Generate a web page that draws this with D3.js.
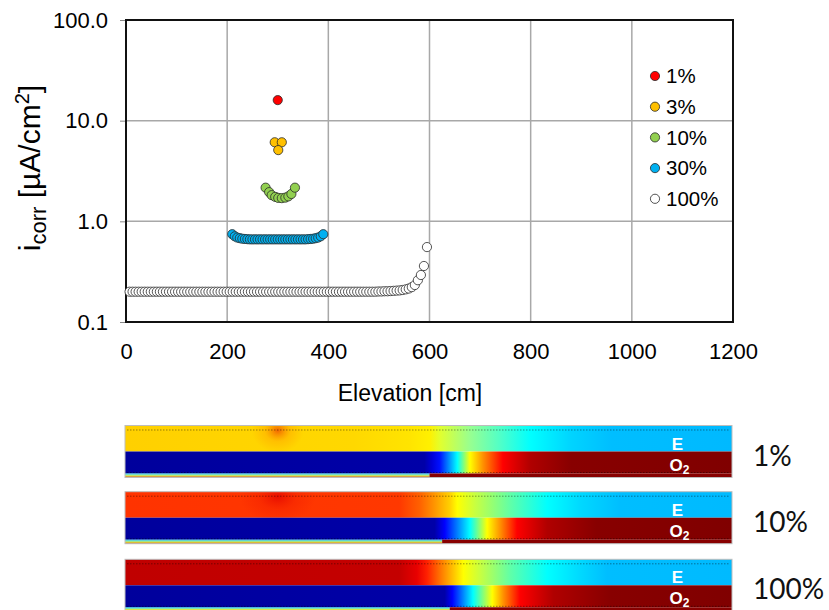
<!DOCTYPE html>
<html><head><meta charset="utf-8">
<script src="https://cdn.jsdelivr.net/npm/d3@7"></script>
<style>body{margin:0;background:#fff}</style>
</head><body><svg id="c" width="829" height="610" xmlns="http://www.w3.org/2000/svg"></svg>
<script>
// ---------- data ----------
const seriesNames = ["1%", "3%", "10%", "30%", "100%"];
const seriesColors = ["#FF0000", "#FFC000", "#92D050", "#00B0F0", "#FFFFFF"];

const x1pct = [300];
const y1pct = [16];

const x3pct = [294, 308, 301];
const y3pct = [6.1, 6.1, 5.1];

const x10pct = [276, 283, 288, 295, 301, 308, 315, 321, 327, 334];
const y10pct = [2.16, 1.95, 1.82, 1.75, 1.71, 1.70, 1.72, 1.77, 1.87, 2.16];

const x30pct = [210, 215, 220, 225, 230, 235, 240, 245, 250, 255, 260, 265, 270, 275, 280, 285, 290, 295, 300,
  305, 310, 315, 320, 325, 330, 335, 340, 345, 350, 355, 360, 365, 370, 375, 380, 385, 390];
const y30pct = [0.745, 0.71, 0.69, 0.68, 0.672, 0.668, 0.665,
  0.662, 0.662, 0.662, 0.662, 0.662, 0.662, 0.662, 0.662, 0.662, 0.662, 0.662, 0.662,
  0.662, 0.662, 0.662, 0.662, 0.662, 0.662, 0.662, 0.662, 0.662, 0.662, 0.662,
  0.665, 0.668, 0.672, 0.68, 0.69, 0.71, 0.745];

const x100pct = [7, 13, 19, 25, 31, 37, 43, 49, 55, 61, 67, 73, 79, 85, 91, 97, 103, 109, 115, 121,
  127, 133, 139, 145, 151, 157, 163, 169, 175, 181, 187, 193, 199, 205, 211, 217, 223, 229, 235, 241,
  247, 253, 259, 265, 271, 277, 283, 289, 295, 301, 307, 313, 319, 325, 331, 337, 343, 349, 355, 361,
  367, 373, 379, 385, 391, 397, 403, 409, 415, 421, 427, 433, 439, 445, 451, 457, 463, 469, 475, 481,
  487, 493, 499, 505, 511, 517, 523, 529, 535, 541, 547, 553, 559, 565, 571, 577, 583, 589, 595];
const y100pct = [0.2, 0.2, 0.2, 0.2, 0.2, 0.2, 0.2, 0.2, 0.2, 0.2,
  0.2, 0.2, 0.2, 0.2, 0.2, 0.2, 0.2, 0.2, 0.2, 0.2,
  0.2, 0.2, 0.2, 0.2, 0.2, 0.2, 0.2, 0.2, 0.2, 0.2,
  0.2, 0.2, 0.2, 0.2, 0.2, 0.2, 0.2, 0.2, 0.2, 0.2,
  0.2, 0.2, 0.2, 0.2, 0.2, 0.2, 0.2, 0.2, 0.2, 0.2,
  0.2, 0.2, 0.2, 0.2, 0.2, 0.2, 0.2, 0.2, 0.2, 0.2,
  0.2, 0.2, 0.2, 0.2, 0.2, 0.2, 0.2, 0.2, 0.2, 0.2,
  0.2, 0.2, 0.2, 0.2, 0.2, 0.2, 0.2, 0.2, 0.2, 0.2,
  0.2, 0.2,
  0.201, 0.201, 0.202, 0.202, 0.203, 0.204, 0.205, 0.206, 0.208, 0.211,
  0.215, 0.222, 0.233, 0.26, 0.293, 0.36, 0.555];

const xTicks = [0, 200, 400, 600, 800, 1000, 1200];
const yTicks = [0.1, 1, 10, 100];
const yTickLabels = ["0.1", "1.0", "10.0", "100.0"];
const xTitle = "Elevation [cm]";

// heat-map profiles along elevation (cm, colour)
const bandLabels = ["1%", "10%", "100%"];
const hotspotElev = 300;
const eTop1 = [[0, "#FFD000"], [450, "#FFD800"], [560, "#FFE400"], [600, "#FFF000"], [622, "#E0FF30"], [680, "#98FF90"], [740, "#50FFC8"], [800, "#00FFFF"], [880, "#00D4FF"], [960, "#00BEFF"], [1200, "#00B9FF"]];
const o2Bot1 = [[0, "#00009C"], [590, "#0000A8"], [605, "#0000D8"], [620, "#0010FF"], [655, "#00FFFF"], [680, "#FFFF00"], [706, "#FF9000"], [745, "#FF0000"], [800, "#B00000"], [880, "#880000"], [1200, "#800000"]];
const eTop10 = [[0, "#FF3300"], [540, "#FF3800"], [580, "#FF6000"], [607, "#FF9000"], [640, "#FFD000"], [655, "#FFFF00"], [690, "#C8FF40"], [760, "#60FFA8"], [833, "#00FFFF"], [900, "#00D8FF"], [977, "#00BEFF"], [1200, "#00BAFF"]];
const o2Bot10 = [[0, "#00009C"], [610, "#0000A8"], [630, "#0000FF"], [680, "#00FFFF"], [714, "#FFFF00"], [740, "#FF9000"], [773, "#FF0000"], [833, "#B00000"], [930, "#880000"], [1200, "#800000"]];
const eTop100 = [[0, "#C00000"], [540, "#C40000"], [575, "#E80000"], [595, "#FF2000"], [625, "#FF8000"], [667, "#FFFF00"], [700, "#C8FF40"], [760, "#60FFA8"], [833, "#00FFFF"], [900, "#00D8FF"], [951, "#00BEFF"], [1200, "#00BAFF"]];
const o2Bot100 = [[0, "#00009C"], [630, "#0000A8"], [645, "#0000FF"], [686, "#00FFFF"], [724, "#FFFF00"], [746, "#FF9000"], [779, "#FF0000"], [845, "#B00000"], [957, "#880000"], [1200, "#800000"]];
const blueEnd = [600, 625, 640];

// ---------- chart ----------
const svg = d3.select("#c");
const x = d3.scaleLinear().domain([0, 1200]).range([126, 733]);
const y = d3.scaleLog().domain([0.1, 100]).range([322, 20]);
const FONT = "Arial, 'Liberation Sans', sans-serif";

svg.append("rect").attr("width", 829).attr("height", 610).attr("fill", "#fff");

// gridlines
svg.append("g").selectAll("line").data(xTicks.slice(1, -1)).join("line")
  .attr("x1", d => x(d)).attr("x2", d => x(d)).attr("y1", y(100)).attr("y2", y(0.1))
  .attr("stroke", "#A8A8A8").attr("stroke-width", 1.5);
svg.append("g").selectAll("line").data(yTicks.slice(1, -1)).join("line")
  .attr("x1", x(0)).attr("x2", x(1200)).attr("y1", d => y(d)).attr("y2", d => y(d))
  .attr("stroke", "#A8A8A8").attr("stroke-width", 1.5);

// axes
const yAxis = svg.append("g").attr("transform", `translate(${x(0)},0)`)
  .call(d3.axisLeft(y).tickValues(yTicks).tickFormat((d, i) => yTickLabels[i]).tickSize(6).tickPadding(12));
yAxis.select(".domain").remove();
yAxis.selectAll("line").attr("stroke", "#888");
yAxis.selectAll("text").attr("font-size", 22).attr("font-family", FONT).attr("fill", "#000");

const xAxis = svg.append("g").attr("transform", `translate(0,${y(0.1)})`)
  .call(d3.axisBottom(x).tickValues(xTicks).tickFormat(d3.format("d")).tickSize(0).tickPadding(21));
xAxis.select(".domain").remove();
xAxis.selectAll("text").attr("font-size", 22).attr("font-family", FONT).attr("fill", "#000");

// frame
svg.append("rect").attr("x", x(0)).attr("y", y(100)).attr("width", x(1200) - x(0)).attr("height", y(0.1) - y(100))
  .attr("fill", "none").attr("stroke", "#111").attr("stroke-width", 2);

// titles
svg.append("text").attr("x", 410).attr("y", 401).attr("text-anchor", "middle")
  .attr("font-size", 23).attr("font-family", FONT).text(xTitle);

const yt = svg.append("text").attr("transform", "translate(40,168) rotate(-90)")
  .attr("text-anchor", "middle").attr("font-size", 30).attr("font-family", FONT);
yt.append("tspan").text("i");
yt.append("tspan").attr("font-size", 22).attr("dy", 6).text("corr");
yt.append("tspan").attr("dy", -6).text(" [µA/cm");
yt.append("tspan").attr("font-size", 20).attr("dy", -11).text("2");
yt.append("tspan").attr("dy", 11).text("]");

// series
const series = [
  [x1pct, y1pct], [x3pct, y3pct], [x10pct, y10pct], [x30pct, y30pct], [x100pct, y100pct]
];
series.forEach(([xs, ys], i) => {
  svg.append("g").selectAll("circle").data(xs.map((v, j) => [v, ys[j]])).join("circle")
    .attr("cx", d => x(d[0])).attr("cy", d => y(d[1])).attr("r", 4.6)
    .attr("fill", seriesColors[i]).attr("stroke", "#2a2a2a").attr("stroke-width", 0.8);
});

// legend
const lg = svg.append("g");
seriesNames.forEach((n, i) => {
  const cy = 76 + i * 30.7;
  lg.append("circle").attr("cx", 655).attr("cy", cy).attr("r", 4.6)
    .attr("fill", seriesColors[i]).attr("stroke", "#2a2a2a").attr("stroke-width", 0.8);
  lg.append("text").attr("x", 666).attr("y", cy).attr("dy", "0.36em")
    .attr("font-size", 20.5).attr("font-family", FONT).text(n);
});

// ---------- heat-map bands ----------
const defs = svg.append("defs");
function linGrad(id, stops) {
  const g = defs.append("linearGradient").attr("id", id).attr("gradientUnits", "userSpaceOnUse")
    .attr("x1", x(0)).attr("x2", x(1200)).attr("y1", 0).attr("y2", 0);
  stops.forEach(s => g.append("stop").attr("offset", s[0] / 1200).attr("stop-color", s[1]));
}
const bandTops = [425.5, 491.7, 559.3];
const topStops = [eTop1, eTop10, eTop100];
const botStops = [o2Bot1, o2Bot10, o2Bot100];
const hot = [["#F05A00", 0.9, "#FFA000", 26, 22], ["#E00000", 0.75, "#F01800", 38, 26], null];
const bx0 = x(0) - 1, bx1 = x(1200) - 1;

bandTops.forEach((t, i) => {
  linGrad("et" + i, topStops[i]);
  linGrad("ob" + i, botStops[i]);
  const g = svg.append("g");
  g.append("rect").attr("x", bx0).attr("y", t).attr("width", bx1 - bx0).attr("height", 26).attr("fill", `url(#et${i})`);
  if (hot[i]) {
    const rg = defs.append("radialGradient").attr("id", "hs" + i);
    rg.append("stop").attr("offset", 0).attr("stop-color", hot[i][0]).attr("stop-opacity", hot[i][1]);
    rg.append("stop").attr("offset", 0.5).attr("stop-color", hot[i][2]).attr("stop-opacity", hot[i][1] * 0.45);
    rg.append("stop").attr("offset", 1).attr("stop-color", hot[i][2]).attr("stop-opacity", 0);
    defs.append("clipPath").attr("id", "cp" + i).append("rect")
      .attr("x", bx0).attr("y", t).attr("width", bx1 - bx0).attr("height", 26);
    g.append("ellipse").attr("clip-path", `url(#cp${i})`)
      .attr("cx", x(hotspotElev)).attr("cy", t + 5).attr("rx", hot[i][3]).attr("ry", hot[i][4])
      .attr("fill", `url(#hs${i})`);
  }
  g.append("rect").attr("x", bx0).attr("y", t + 26).attr("width", bx1 - bx0).attr("height", 22).attr("fill", `url(#ob${i})`);
  const stripCols = ["#20B8E0", "#60E0A0", "#D8E000", "#D05000"];
  stripCols.forEach((c, k) => {
    g.append("rect").attr("x", bx0).attr("y", t + 48 + k).attr("width", x(blueEnd[i]) - bx0).attr("height", 1).attr("fill", c);
  });
  g.append("rect").attr("x", x(blueEnd[i])).attr("y", t + 48).attr("width", bx1 - x(blueEnd[i])).attr("height", 4).attr("fill", "#880000");
  [t + 4.5, t + 47].forEach(yy => {
    g.append("line").attr("x1", bx0 + 2).attr("x2", bx1 - 2).attr("y1", yy).attr("y2", yy)
      .attr("stroke", "#000").attr("stroke-opacity", 0.4).attr("stroke-width", 1).attr("stroke-dasharray", "1.5,1.5");
  });
  g.append("rect").attr("x", bx0).attr("y", t).attr("width", bx1 - bx0).attr("height", 52)
    .attr("fill", "none").attr("stroke", "#BDBDBD").attr("stroke-width", 1);
  g.append("text").attr("x", 677.5).attr("y", t + 24).attr("text-anchor", "middle")
    .attr("font-size", 17).attr("font-weight", "bold").attr("font-family", FONT).attr("fill", "#fff").text("E");
  const o = g.append("text").attr("x", 669.5).attr("y", t + 45)
    .attr("font-size", 17).attr("font-weight", "bold").attr("font-family", FONT).attr("fill", "#fff");
  o.append("tspan").text("O");
  o.append("tspan").attr("font-size", 12).attr("dy", 3).text("2");
  svg.append("text").attr("x", 753).attr("y", t + 40)
    .attr("font-size", 28).attr("font-family", "Lato, 'Open Sans', sans-serif").attr("fill", "#111").text(bandLabels[i]);
});
</script>
</body></html>
